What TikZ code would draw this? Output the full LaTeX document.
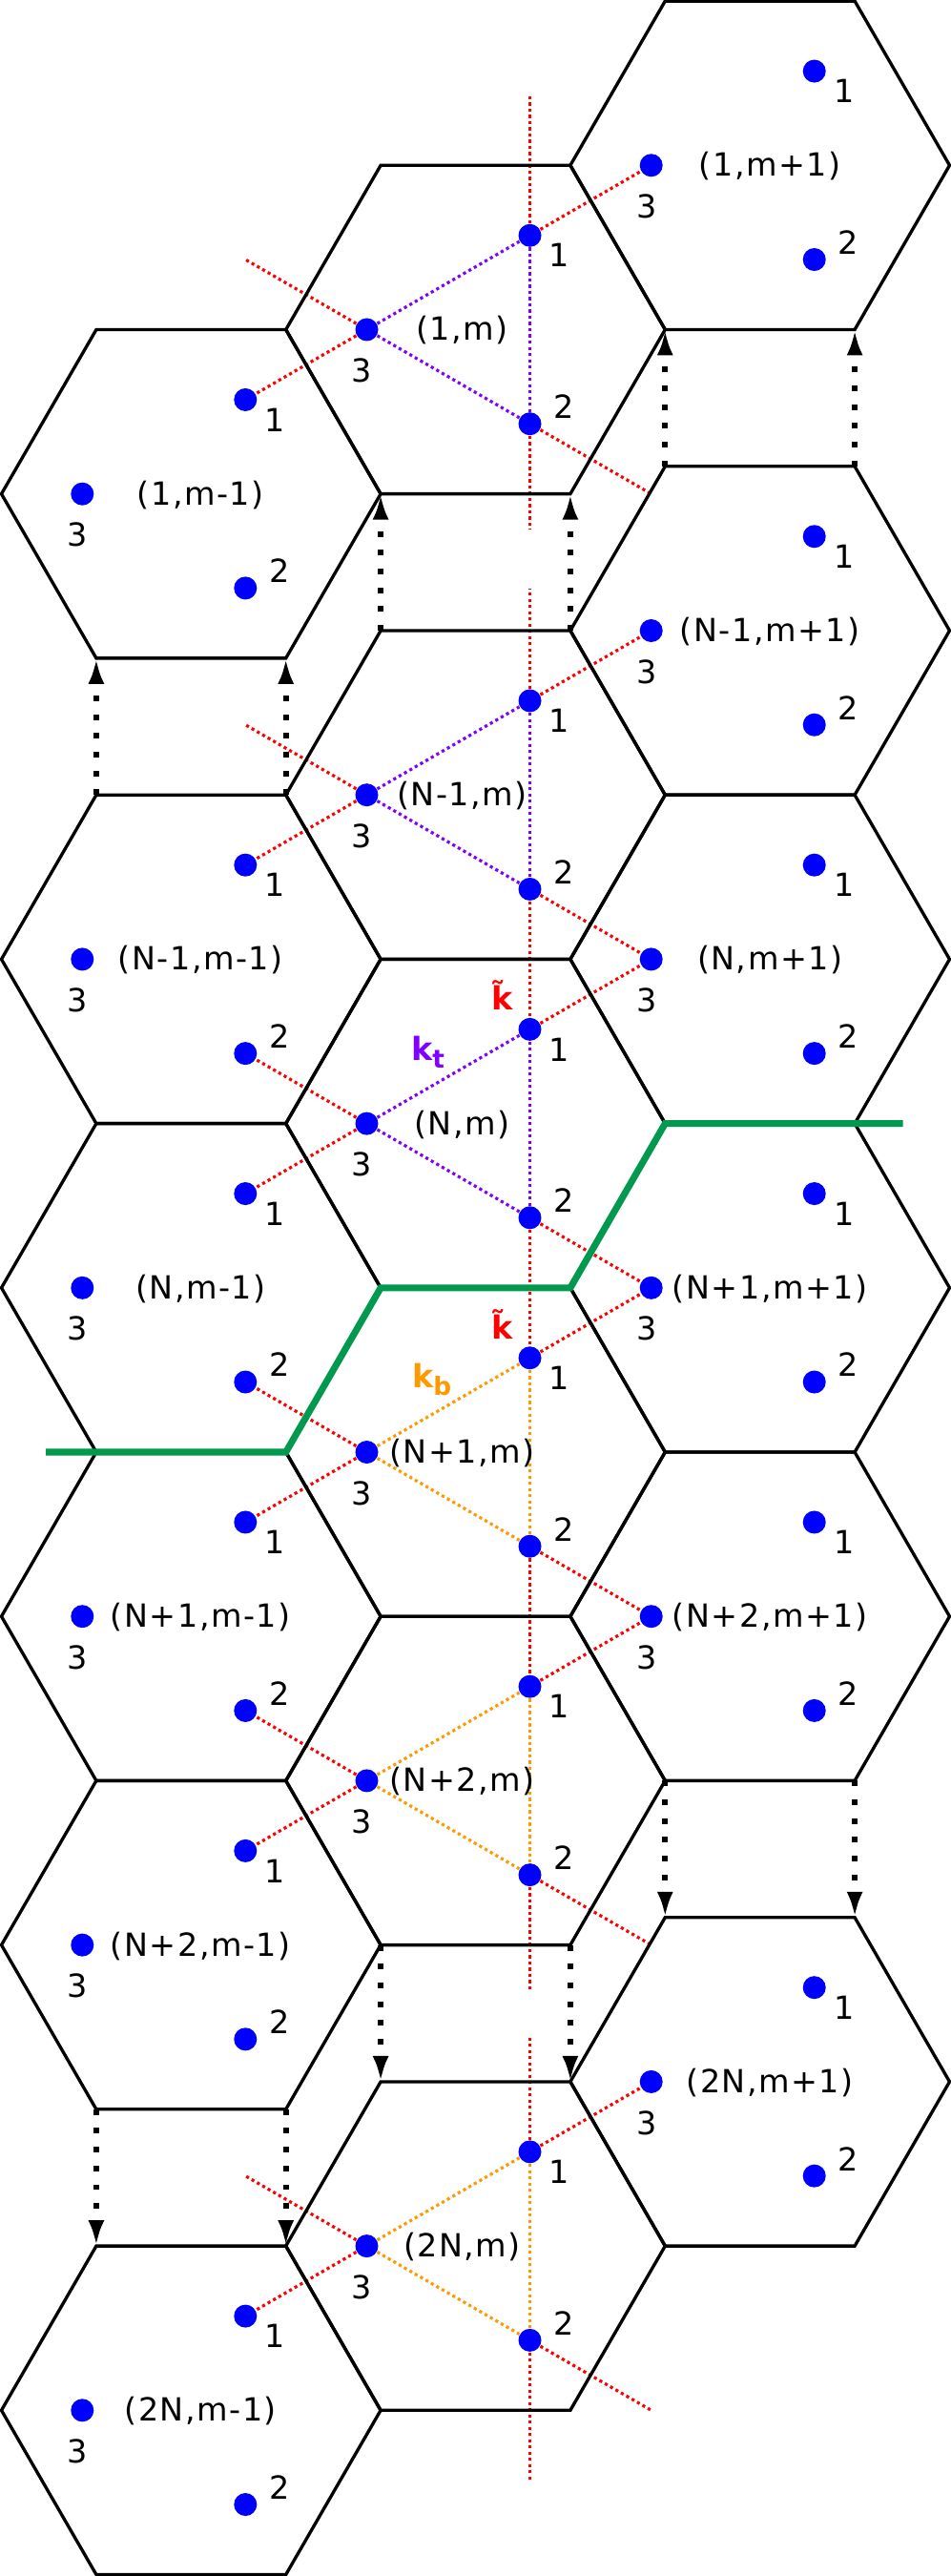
\documentclass[tikz,border=0pt]{standalone}
\usepackage{fontspec}
\setmainfont{DejaVu Sans}
\newfontfamily\cellfont{DejaVu Sans}[LetterSpace=4.5]
\usetikzlibrary{arrows.meta,calc,backgrounds}
\definecolor{Ink}{HTML}{000000}
\definecolor{SiteBlue}{HTML}{0000FF}
\definecolor{BondRed}{HTML}{FF0000}
\definecolor{BondPurple}{HTML}{7F00FF}
\definecolor{BondOrange}{HTML}{FF9900}
\definecolor{CutGreen}{HTML}{00994D}
\tikzset{
  cell/.style={draw=Ink,line width=0.95pt},
  site/.style={circle,fill=SiteBlue,inner sep=0pt,minimum size=2.4mm},
  sitenum/.style={font=\fontsize{9.5}{11}\selectfont,inner sep=0pt},
  cellname/.style={font=\cellfont\fontsize{9.5}{11}\selectfont,inner sep=0pt},
  bond/.style={line width=0.9pt,dash pattern=on 0.9pt off 0.95pt},
  redbond/.style={bond,draw=BondRed},
  topbond/.style={bond,draw=BondPurple},
  botbond/.style={bond,draw=BondOrange},
  wrap/.style={-{Latex[length=2.7mm,width=1.7mm]},line width=1.7pt,dash pattern=on 1.7pt off 3.9pt,draw=Ink},
  cut/.style={draw=CutGreen,line width=2pt},
  klabel/.style={font=\fontsize{9.5}{11}\selectfont\bfseries,inner sep=0pt}
}

\begin{document}
\begin{tikzpicture}
  \useasboundingbox (0,0) rectangle (9.97,-27);
  \def\hexside{1.988}
  % cells: row / gaps above / row label, then column / column label / label shift
  \foreach \row/\gaps/\rlab in {0/0/1,1/1/N-1,2/1/N,3/1/N+1,4/1/N+2,5/2/2N}{
    \foreach \col/\clab/\dx in {0/m-1/0.10,1/m/-0.14,2/m+1/0.105}{
      \pgfmathsetmacro\hx{2.003+2.982*\col}
      \pgfmathsetmacro\hy{-(1.733+(2*\row+2-\col)*1.722+\gaps*1.433)}
      \coordinate (h\row\col) at (\hx,\hy);
      \draw[cell,shift={(\hx,\hy)}] (0:\hexside) -- (60:\hexside) -- (120:\hexside) -- (180:\hexside) -- (240:\hexside) -- (300:\hexside) -- cycle;
      \node[cellname] (n\row\col) at ([shift={(\dx,-0.01)}]h\row\col) {(\rlab,\clab)};
      \node[site] (d\row\col-1) at ([shift={(60:1.14)}]h\row\col) {};
      \node[site] (d\row\col-2) at ([shift={(-60:1.14)}]h\row\col) {};
      \node[site] (d\row\col-3) at ([shift={(180:1.14)}]h\row\col) {};
      \node[sitenum] (d\row\col-1l) at ([shift={(0.31,-0.21)}]d\row\col-1) {1};
      \node[sitenum] (d\row\col-2l) at ([shift={(0.355,0.18)}]d\row\col-2) {2};
      \node[sitenum] (d\row\col-3l) at ([shift={(-0.05,-0.43)}]d\row\col-3) {3};
    }
  }

  \begin{scope}[on background layer]
    % triangles in the middle column
    \foreach \row/\tone in {0/topbond,1/topbond,2/topbond,3/botbond,4/botbond,5/botbond}{
      \draw[\tone] (d\row1-3) -- (d\row1-1);
      \draw[\tone] (d\row1-3) -- (d\row1-2);
      \draw[\tone] (d\row1-1) -- (d\row1-2);
    }
    % bonds between cells
    \foreach \row in {0,...,5}{
      \draw[redbond] (d\row1-1) -- (d\row2-3);
      \draw[redbond] (d\row1-3) -- (d\row0-1);
    }
    \foreach \row/\next in {1/2,2/3,3/4}{
      \draw[redbond] (d\row1-2) -- (d\next2-3);
      \draw[redbond] (d\row1-2) -- (d\next1-1);
      \draw[redbond] (d\next1-3) -- (d\row0-2);
    }
    % open ends
    \foreach \row in {0,1,5}{
      \coordinate (x\row-ul) at ([shift={(150:1.47)}]d\row1-3);
      \draw[redbond] (d\row1-3) -- (x\row-ul);
    }
    \foreach \row in {0,4,5}{
      \coordinate (x\row-dr) at ([shift={(-30:1.47)}]d\row1-2);
      \draw[redbond] (d\row1-2) -- (x\row-dr);
    }
    \foreach \row/\len in {0/1.47,1/1.17,5/1.19}{
      \coordinate (x\row-up) at ([shift={(0,\len)}]d\row1-1);
      \draw[redbond] (d\row1-1) -- (x\row-up);
    }
    \foreach \row/\len in {0/1.11,4/1.22,5/1.47}{
      \coordinate (x\row-dn) at ([shift={(0,-\len)}]d\row1-2);
      \draw[redbond] (d\row1-2) -- (x\row-dn);
    }
  \end{scope}

  % periodic wrap
  \foreach \col in {0,1,2}{
    \draw[wrap] ([shift={(120:\hexside)}]h1\col) -- ([shift={(240:\hexside)}]h0\col);
    \draw[wrap] ([shift={(60:\hexside)}]h1\col) -- ([shift={(300:\hexside)}]h0\col);
    \draw[wrap] ([shift={(240:\hexside)}]h4\col) -- ([shift={(120:\hexside)}]h5\col);
    \draw[wrap] ([shift={(300:\hexside)}]h4\col) -- ([shift={(60:\hexside)}]h5\col);
  }

  % cut line
  \coordinate (cutL) at (0.48,-15.22);
  \coordinate (cutR) at (9.465,-11.776);
  \draw[cut] (cutL) -- ([shift={(180:\hexside)}]h31) -- ([shift={(120:\hexside)}]h31) -- ([shift={(60:\hexside)}]h31) -- ([shift={(120:\hexside)}]h32) -- (cutR);

  \node[klabel,text=BondRed,anchor=base] (kt1) at ([shift={(-0.285,0.20)}]d21-1) {\~{k}};
  \node[klabel,text=BondRed,anchor=base] (kt2) at ([shift={(-0.285,0.20)}]d31-1) {\~{k}};
  \node[klabel,text=BondPurple,anchor=base west] (ktop) at ([shift={(-1.25,-0.33)}]d21-1) {k\raisebox{-2.3pt}{\fontsize{7.5}{8}\selectfont t}};
  \node[klabel,text=BondOrange,anchor=base west] (kbot) at ([shift={(-1.24,-0.31)}]d31-1) {k\raisebox{-2.3pt}{\fontsize{7.5}{8}\selectfont b}};
\end{tikzpicture}
\end{document}
